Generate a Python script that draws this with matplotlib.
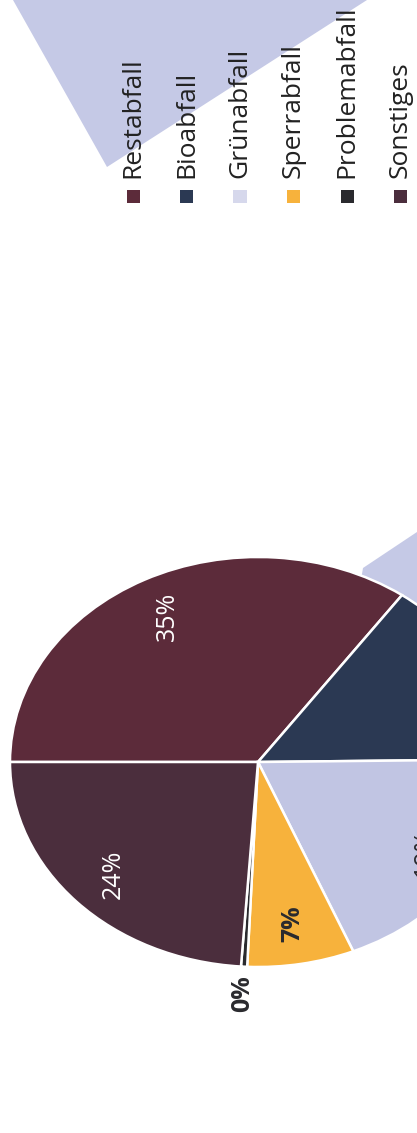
import matplotlib
matplotlib.use("Agg")
import matplotlib.pyplot as plt
from matplotlib.patches import Polygon
import numpy as np

plt.rcParams['font.family'] = ['Open Sans', 'DejaVu Sans']

categories = ["Restabfall", "Bioabfall", "Grünabfall", "Sperrabfall", "Problemabfall", "Sonstiges"]
values = [35, 15, 19, 7, 0.4, 24]
pct_labels = ["35%", "15%", "19%", "7%", "0%", "24%"]
colors = ["#5c2b3a", "#2b3953", "#c1c5e3", "#f7b23c", "#2a2a2e", "#4b2e3d"]
legend_colors = ["#5c2b3a", "#2b3953", "#d6d8ec", "#f7b23c", "#2a2a2e", "#4b2e3d"]
label_colors = ["white", "white", "#2a2a2e", "#2a2a2e", "#2a2a2e", "white"]

W, H = 417, 1133
fig = plt.figure(figsize=(W / 100, H / 100), dpi=100)
fig.patch.set_facecolor("white")

def px(x, y):
    return (x / W, 1 - y / H)

# decorative lavender shapes from the scan (behind the pie)
fig.patches.append(Polygon([px(13, 0), px(107, 167), px(367, 0)], closed=True,
                           transform=fig.transFigure, facecolor="#c5c9e6",
                           edgecolor="none", zorder=0))
fig.patches.append(Polygon([px(363, 568), px(417, 532), px(417, 760), px(330, 760)],
                           closed=True, transform=fig.transFigure, facecolor="#c5c9e6",
                           edgecolor="none", zorder=0))

ax = fig.add_axes([0, 0, 1, 1])
ax.set_zorder(1)
ax.patch.set_alpha(0)
cx, cy, rx, ry = 258, 762, 248, 205
wedges, _ = ax.pie(values, colors=colors, startangle=180, counterclock=False,
                   wedgeprops=dict(edgecolor="white", linewidth=1.8))
ax.set_aspect("auto")
ax.set_xlim(-cx / rx, (W - cx) / rx)
ax.set_ylim(-(H - cy) / ry, cy / ry)
ax.axis("off")

for w, lab, lc in zip(wedges, pct_labels, label_colors):
    mid = np.deg2rad((w.theta1 + w.theta2) / 2)
    dist = 1.13 if lab == "0%" else 0.8
    weight = "bold" if lab in ("0%", "7%") else "normal"
    ax.text(dist * np.cos(mid), dist * np.sin(mid), lab, rotation=90,
            ha="center", va="center", color=lc, fontsize=18, fontweight=weight)

# legend (rotated)
for i, (cat, col) in enumerate(zip(categories, legend_colors)):
    x = 133 + i * 53.5
    fig.patches.append(Polygon([px(x - 6.5, 190), px(x + 6.5, 190), px(x + 6.5, 203), px(x - 6.5, 203)],
                               closed=True, transform=fig.transFigure, facecolor=col,
                               edgecolor="none", zorder=2))
    fig.text(x / W, 1 - 178 / H, cat, rotation=90, ha="center", va="bottom",
             fontsize=19, color="#222222", zorder=3)

fig.savefig("out.png", dpi=100)
